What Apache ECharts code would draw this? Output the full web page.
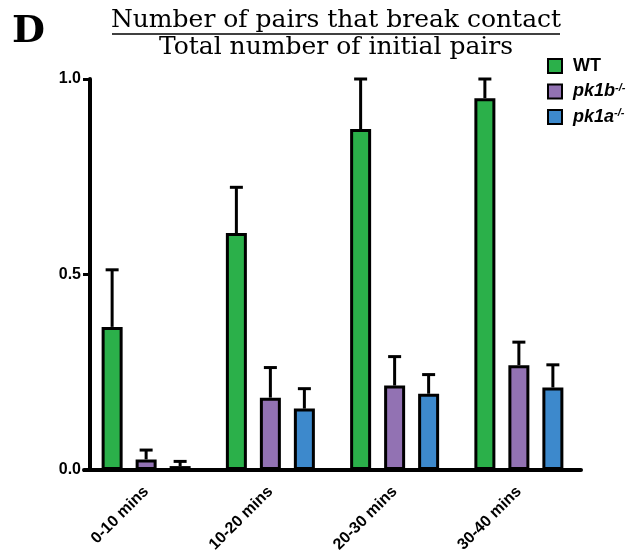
<!DOCTYPE html>
<html>
<head>
<meta charset="utf-8">
<script src="https://cdn.jsdelivr.net/npm/echarts@6/dist/echarts.min.js"></script>
<style>
  html, body { margin: 0; padding: 0; background: #fff; }
  #chart { width: 631px; height: 559px; }
</style>
</head>
<body>
<div id="chart"></div>
<script>
// Time windows on the x axis
const categories = ['0-10 mins', '10-20 mins', '20-30 mins', '30-40 mins'];
// Fraction of pairs that break contact (mean) per genotype
const wtMean   = [0.366, 0.606, 0.872, 0.951];
const pk1bMean = [0.027, 0.185, 0.216, 0.268];
const pk1aMean = [0.010, 0.157, 0.195, 0.211];
// Upper error (SEM) per genotype
const wtErr    = [0.146, 0.117, 0.128, 0.049];
const pk1bErr  = [0.024, 0.077, 0.074, 0.059];
const pk1aErr  = [0.012, 0.051, 0.049, 0.058];
// Y axis ticks
const yTicks = [0, 0.5, 1.0];

const groups = [
  { name: 'WT',   mean: wtMean,   err: wtErr,   color: '#2BB04A' },
  { name: 'pk1b', mean: pk1bMean, err: pk1bErr, color: '#9272B3' },
  { name: 'pk1a', mean: pk1aMean, err: pk1aErr, color: '#3D89CC' }
];

const SANS = '"Liberation Sans", Arial, sans-serif';
const BAR_W = 21;
const BAR_STEP = 34;   // centre-to-centre distance of bars in a group

const chart = echarts.init(document.getElementById('chart'));

const barSeries = groups.map(g => ({
  name: g.name,
  type: 'bar',
  data: g.mean,
  barWidth: BAR_W,
  barGap: ((BAR_STEP - BAR_W) / BAR_W * 100).toFixed(1) + '%',
  itemStyle: { color: g.color, borderColor: '#000', borderWidth: 3 },
  z: 3
}));

const errSeries = groups.map((g, gi) => ({
  name: g.name + ' err',
  type: 'custom',
  z: 2,
  data: g.mean.map((m, i) => [i, m, g.err[i]]),
  renderItem: function (params, api) {
    const c = api.value(0), m = api.value(1), e = api.value(2);
    const base = api.coord([c, m]);
    const top = api.coord([c, m + e]);
    const x = base[0] + (gi - 1) * BAR_STEP;
    const style = { stroke: '#000', lineWidth: 3 };
    return {
      type: 'group',
      children: [
        { type: 'line', shape: { x1: x, y1: base[1], x2: x, y2: top[1] }, style: style },
        { type: 'line', shape: { x1: x - 6.5, y1: top[1], x2: x + 6.5, y2: top[1] }, style: style }
      ]
    };
  }
}));

const option = {
  animation: false,
  backgroundColor: '#fff',
  grid: { left: 84, right: 50, top: 79, bottom: 89, containLabel: false },
  legend: {
    data: groups.map(g => g.name),
    orient: 'vertical',
    left: 547,
    top: 57,
    padding: 0,
    itemWidth: 14,
    itemHeight: 14,
    itemGap: 7,
    icon: 'rect',
    textStyle: {
      fontFamily: SANS,
      fontWeight: 'bold',
      fontSize: 18,
      color: '#000',
      padding: [0, 0, 0, 6],
      rich: {
        it: { fontFamily: SANS, fontWeight: 'bold', fontStyle: 'italic', fontSize: 18, color: '#000' },
        sup: { fontFamily: SANS, fontWeight: 'bold', fontStyle: 'italic', fontSize: 11, color: '#000', verticalAlign: 'top', padding: [0, 0, 8, 0] }
      }
    },
    formatter: function (name) {
      if (name === 'WT') return 'WT';
      return '{it|' + name + '}{sup|-/-}';
    }
  },
  xAxis: {
    type: 'category',
    data: categories,
    axisLine: { lineStyle: { color: '#000', width: 4 } },
    axisTick: { alignWithLabel: true, length: 8, lineStyle: { color: '#000', width: 3 } },
    axisLabel: {
      rotate: 45,
      margin: 19,
      color: '#000',
      fontFamily: SANS,
      fontWeight: 'bold',
      fontSize: 16
    }
  },
  yAxis: {
    type: 'value',
    min: 0,
    max: 1,
    interval: 0.5,
    offset: -6,
    splitLine: { show: false },
    axisLine: { show: true, lineStyle: { color: '#000', width: 4 } },
    axisTick: { show: true, length: 7, lineStyle: { color: '#000', width: 3 } },
    axisLabel: {
      margin: 9,
      color: '#000',
      fontFamily: SANS,
      fontWeight: 'bold',
      fontSize: 16,
      formatter: function (v) {
        return yTicks.indexOf(v) >= 0 ? v.toFixed(1) : '';
      }
    }
  },
  graphic: [
    {
      type: 'text', left: 12, top: 13,
      style: { text: 'D', font: 'bold 38px "DejaVu Serif", serif', fill: '#000' }
    },
    {
      type: 'text', x: 336, y: 8,
      style: { text: 'Number of pairs that break contact', font: '25px "DejaVu Serif", serif', fill: '#000', textAlign: 'center' }
    },
    {
      type: 'line', shape: { x1: 112, y1: 34, x2: 560, y2: 34 },
      style: { stroke: '#000', lineWidth: 1.5 }
    },
    {
      type: 'text', x: 336, y: 35,
      style: { text: 'Total number of initial pairs', font: '25px "DejaVu Serif", serif', fill: '#000', textAlign: 'center' }
    }
  ],
  series: barSeries.concat(errSeries)
};

chart.setOption(option);
</script>
</body>
</html>
